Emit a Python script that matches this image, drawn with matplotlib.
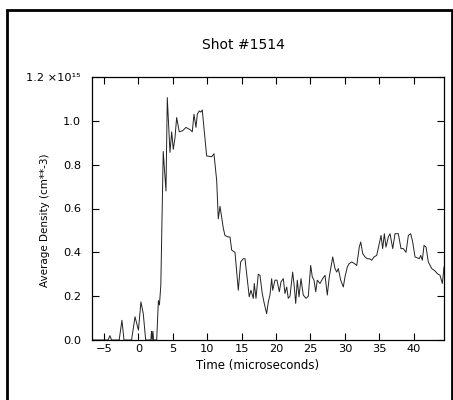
import matplotlib
matplotlib.use("Agg")
import matplotlib.pyplot as plt
import numpy as np
from matplotlib.patches import Rectangle

# time in microseconds, density in units of 1e15 cm^-3
time_us = [-6.75, -4.4, -4.15, -3.9, -2.8, -2.4, -2.1, -1.0, -0.5, 0.0, 0.36, 0.7, 1.05,
           1.8, 1.9, 2.0, 2.1, 2.2, 2.65, 2.9, 3.05, 3.25, 3.6, 4.0, 4.19, 4.58, 4.83,
           5.06, 5.3, 5.55, 5.93, 6.42, 6.9, 7.49, 7.82, 8.07, 8.36, 8.55, 8.84, 9.08,
           9.27, 9.91, 10.64, 10.97, 11.37, 11.6, 11.85, 12.33, 12.57, 13.05, 13.3,
           13.55, 14.03, 14.51, 14.85, 15.23, 15.48, 15.73, 16.1, 16.35, 16.69, 16.83,
           17.08, 17.41, 17.66, 17.99, 18.28, 18.63, 18.87, 19.11, 19.36, 19.51, 19.84,
           20.13, 20.47, 20.71, 21.05, 21.29, 21.54, 21.77, 22.02, 22.41, 22.65, 22.85,
           23.08, 23.33, 23.62, 23.95, 24.35, 24.68, 25.03, 25.26, 25.51, 25.76, 25.99,
           26.38, 26.77, 27.11, 27.44, 27.73, 28.23, 28.56, 28.81, 29.04, 29.39, 29.77,
           30.01, 30.35, 30.6, 30.99, 31.33, 31.72, 32.09, 32.3, 32.59, 32.92, 33.26,
           33.65, 33.9, 34.23, 34.62, 35.0, 35.25, 35.49, 35.73, 35.97, 36.31, 36.56,
           36.95, 37.28, 37.76, 38.15, 38.49, 38.88, 39.22, 39.56, 39.85, 40.19, 40.48,
           40.81, 41.02, 41.25, 41.5, 41.79, 42.12, 42.62, 43.1, 43.43, 43.82, 44.16, 44.4]
density = [0.0, 0.0, 0.02, 0.0, 0.0, 0.09, 0.0, 0.0, 0.106, 0.045, 0.174, 0.12, 0.0,
           0.0, 0.04, 0.0, 0.04, 0.0, 0.0, 0.18, 0.16, 0.25, 0.86, 0.68, 1.106, 0.856, 0.95,
           0.87, 0.92, 1.015, 0.95, 0.955, 0.97, 0.96, 0.95, 1.03, 0.97, 1.03, 1.045, 1.04,
           1.05, 0.84, 0.836, 0.85, 0.727, 0.553, 0.61, 0.51, 0.477, 0.47, 0.47,
           0.41, 0.40, 0.227, 0.356, 0.371, 0.371, 0.30, 0.197, 0.227, 0.19, 0.258,
           0.19, 0.30, 0.295, 0.212, 0.167, 0.12, 0.174, 0.205, 0.28, 0.227, 0.273,
           0.273, 0.22, 0.265, 0.28, 0.212, 0.242, 0.19, 0.20, 0.31, 0.242, 0.167,
           0.273, 0.197, 0.28, 0.205, 0.19, 0.20, 0.34, 0.288, 0.273, 0.22, 0.273,
           0.258, 0.28, 0.295, 0.205, 0.288, 0.379, 0.326, 0.31, 0.326, 0.273, 0.242,
           0.288, 0.333, 0.348, 0.356, 0.35, 0.34, 0.424, 0.447, 0.394, 0.379, 0.371,
           0.37, 0.364, 0.379, 0.386, 0.44, 0.477, 0.417, 0.485, 0.424, 0.47, 0.485,
           0.417, 0.485, 0.485, 0.417, 0.417, 0.40, 0.477, 0.485, 0.447, 0.379, 0.375,
           0.371, 0.386, 0.364, 0.432, 0.424, 0.356, 0.326, 0.315, 0.303, 0.295, 0.258, 0.333]

x_ticks = [-5, 0, 5, 10, 15, 20, 25, 30, 35, 40]
y_ticks = [0.0, 0.2, 0.4, 0.6, 0.8, 1.0, 1.2]
y_labels = ['0.0', '0.2', '0.4', '0.6', '0.8', '1.0', '1.2 \u00d710\u00b9\u2075']

fig = plt.figure(figsize=(4.53, 4.0), dpi=100)
ax = fig.add_axes([92/453, 1-340/400, (444-92)/453, (340-77)/400])

ax.plot(time_us, density, color='#222222', linewidth=0.7)
ax.set_xlim(-6.75, 44.4)
ax.set_ylim(0, 1.2)

ax.set_xticks(x_ticks)
ax.set_yticks(y_ticks)
ax.set_yticklabels(y_labels)
ax.tick_params(direction='in', length=5, width=0.8, top=True, right=True,
               labelsize=8.2, colors='black')
ax.tick_params(axis='y', pad=8)
ax.tick_params(axis='x', pad=3)
for s in ax.spines.values():
    s.set_linewidth(0.9)

fig.text(243/453, 1-45/400, 'Shot #1514', ha='center', va='center', fontsize=10)
fig.text(258/453, 1-365/400, 'Time (microseconds)', ha='center', va='center', fontsize=8.5)
fig.text(45/453, 1-220/400, 'Average Density (cm**-3)', ha='center', va='center',
         rotation=90, fontsize=7.5)

# scanned page frame
fig.patches.append(Rectangle((7/453, -0.05), (452-7)/453, 1.05 - 10/400,
                             transform=fig.transFigure, fill=False,
                             edgecolor='black', linewidth=2))

fig.savefig('out.png', dpi=100)
